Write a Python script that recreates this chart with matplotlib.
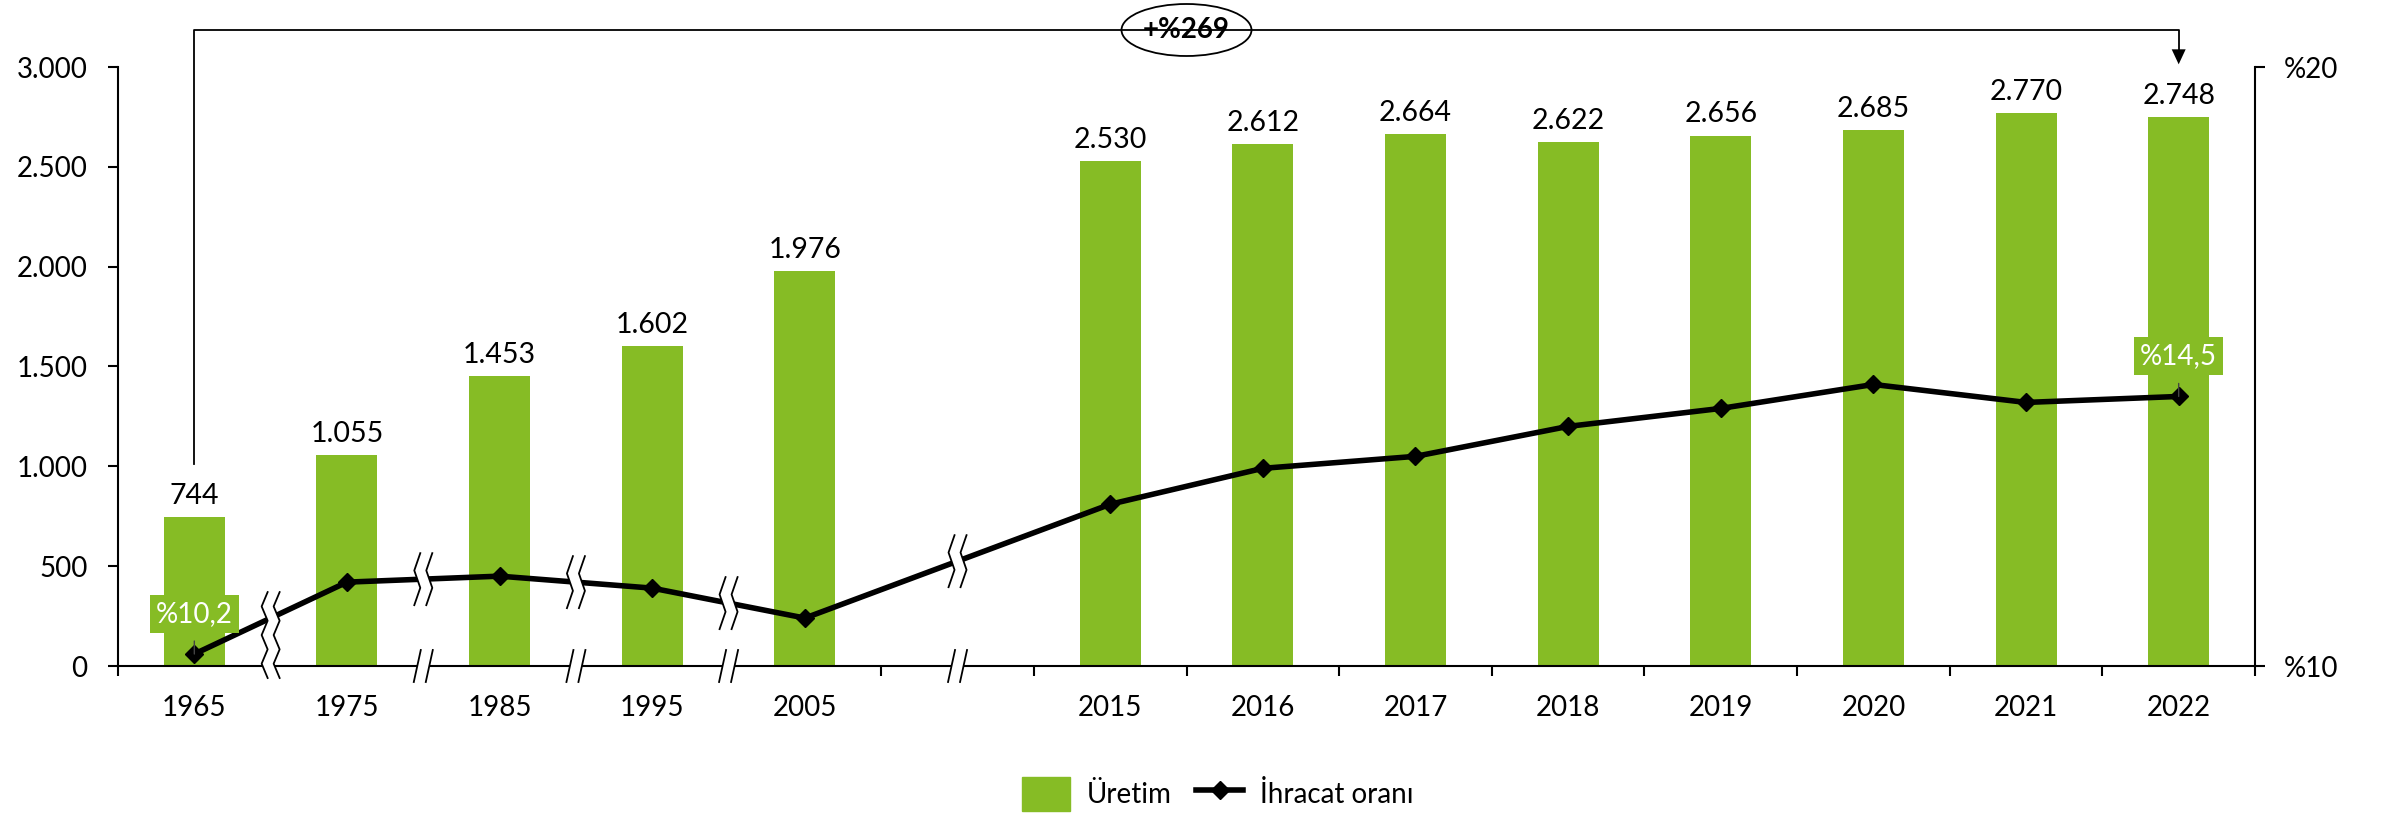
import numpy as np
import matplotlib
matplotlib.use('Agg')
import matplotlib.pyplot as plt
import matplotlib.transforms as mtransforms
from matplotlib.patches import Polygon, Ellipse, Patch
from matplotlib.lines import Line2D

plt.rcParams['font.family'] = ['Lato', 'DejaVu Sans']

years = ['1965', '1975', '1985', '1995', '2005', '2015', '2016',
         '2017', '2018', '2019', '2020', '2021', '2022']
production = [744, 1055, 1453, 1602, 1976, 2530, 2612,
              2664, 2622, 2656, 2685, 2770, 2748]
export_share = [10.2, 11.4, 11.5, 11.3, 10.8, 12.7, 13.3,
                13.5, 14.0, 14.3, 14.7, 14.4, 14.5]
growth_label = '+%269'
legend_labels = ['Üretim', 'İhracat oranı']

GREEN = '#86bc25'
FS = 20

# one empty slot is left between 2005 and 2015
xpos = [i if i < 5 else i + 1 for i in range(len(years))]

fig = plt.figure(figsize=(23.84, 8.13), dpi=100)
W, H = 2384, 813
ax = fig.add_axes([118 / W, 1 - 666 / H, (2255 - 118) / W, (666 - 67) / H])

ax.bar(xpos, production, width=0.4, color=GREEN, zorder=2)
for x, v in zip(xpos, production):
    ax.annotate(f'{v:,}'.replace(',', '.'), (x, v), xytext=(0, 6),
                textcoords='offset points', ha='center', va='bottom', fontsize=FS + 0.5)

ax.set_xlim(-0.5, 13.5)
ax.set_ylim(0, 3000)
yt = list(range(0, 3001, 500))
ax.set_yticks(yt, [f'{v:,}'.replace(',', '.') for v in yt])
ax.set_xticks(xpos, years)
bounds = [-0.5, 4.5] + [x + 0.5 for x in range(5, 14)]
ax.set_xticks(bounds, minor=True)
ax.tick_params(axis='x', which='major', length=0, pad=21, labelsize=FS)
ax.tick_params(axis='x', which='minor', length=7, width=1.5)
ax.tick_params(axis='y', length=7, width=1.5, pad=15, labelsize=FS)
for s in ['top', 'right']:
    ax.spines[s].set_visible(False)
for s in ['left', 'bottom']:
    ax.spines[s].set_linewidth(1.5)

ax2 = ax.twinx()
ax2.set_ylim(10, 20)
ax2.set_yticks([10, 20], ['%10', '%20'])
ax2.tick_params(axis='y', length=7, width=1.5, pad=14, labelsize=FS)
for s in ['top', 'left', 'bottom']:
    ax2.spines[s].set_visible(False)
ax2.spines['right'].set_linewidth(1.5)
ax2.plot(xpos, export_share, color='black', lw=4, marker='D', ms=9.5,
         solid_joinstyle='round', zorder=3)

# first and last ratio labels in green boxes
for i in [0, len(years) - 1]:
    v = export_share[i]
    ax2.annotate(f'%{v:.1f}'.replace('.', ','), (xpos[i], v), xytext=(0, 29),
                 textcoords='offset points', ha='center', va='center',
                 fontsize=FS, color='white',
                 bbox=dict(boxstyle='square,pad=0.22', fc=GREEN, ec='none'))
    ax2.annotate('', (xpos[i], v), xytext=(0, 13), textcoords='offset pixels',
                 arrowprops=dict(arrowstyle='-', lw=1, color='#444444',
                                 shrinkA=0, shrinkB=15))


def px_at(x, y, base):
    return mtransforms.Affine2D().scale(fig.dpi / 100) + \
        mtransforms.ScaledTranslation(x, y, base)


def zigzag_break(x, y, base, top, bottom, kinks):
    ys = np.linspace(top, bottom, kinks)
    xs = np.array([3 if k % 2 == 0 else -3 for k in range(kinks)])
    left = np.column_stack([xs - 6, ys])
    right = np.column_stack([xs + 6, ys])
    t = px_at(x, y, base)
    ax2.add_patch(Polygon(np.vstack([left, right[::-1]]), closed=True, fc='white',
                          ec='none', transform=t, clip_on=False, zorder=6))
    for pts in (left, right):
        ax2.add_line(Line2D(pts[:, 0], pts[:, 1], color='black', lw=1.3,
                            transform=t, clip_on=False, zorder=7))


def axis_break(x):
    t = px_at(x, 0, ax.get_xaxis_transform())
    left = np.array([[-9.5, -16], [-2.5, 16]])
    right = left + [12, 0]
    ax2.add_patch(Polygon(np.vstack([left, right[::-1]]), closed=True, fc='white',
                          ec='none', transform=t, clip_on=False, zorder=6))
    for pts in (left, right):
        ax2.add_line(Line2D(pts[:, 0], pts[:, 1], color='black', lw=1.3,
                            transform=t, clip_on=False, zorder=7))


for bx in [1.5, 2.5, 3.5, 5.0]:
    zigzag_break(bx, np.interp(bx, xpos, export_share), ax2.transData, 26, -26, 4)
    axis_break(bx)

# the first break runs from the line down through the axis
y_line = ax2.transData.transform((0.5, np.interp(0.5, xpos, export_share)))[1]
y_base = ax.transData.transform((0, 0))[1]
zigzag_break(0.5, 0, ax.get_xaxis_transform(), y_line - y_base + 26, -12, 7)

# bracket from 1965 to 2022 with the growth figure
x0, y0 = ax.transData.transform((xpos[0], production[0]))
x1, y1 = ax.transData.transform((xpos[-1], production[-1]))
y0 += 53
y1 += 53
ytop = ax.transAxes.transform((0, 1))[1] + 37
ident = mtransforms.IdentityTransform()
fig.add_artist(Line2D([x0, x0, x1, x1], [y0, ytop, ytop, y1 + 14],
                      color='black', lw=1.3, transform=ident))
fig.add_artist(Polygon([[x1 - 7, y1 + 15], [x1 + 7, y1 + 15], [x1, y1]],
                       closed=True, fc='black', ec='none', transform=ident))
xc = (x0 + x1) / 2
fig.add_artist(Ellipse((xc, ytop), 130, 52, fc='white', ec='black', lw=1.3,
                       transform=ident))
fig.text(xc / W, ytop / H, growth_label, ha='center', va='center',
         fontsize=20, fontweight='bold')

handles = [Patch(color=GREEN),
           Line2D([], [], color='black', lw=4, marker='D', ms=9.5)]
fig.legend(handles, legend_labels, loc='center', bbox_to_anchor=(1218 / W, 1 - 794 / H),
           ncol=2, frameon=False, fontsize=FS, handlelength=1.7, handleheight=1.5,
           columnspacing=0.9, handletextpad=0.6)

fig.savefig('out.png', dpi=100)
